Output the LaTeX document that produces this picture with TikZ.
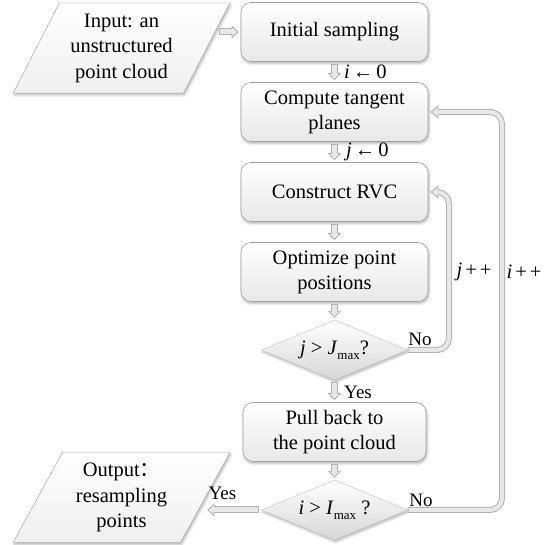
\documentclass[tikz,border=0pt]{standalone}
\usepackage{fontspec}
\setmainfont{Liberation Serif}
\newfontfamily\cjk{Noto Sans CJK SC}
\usetikzlibrary{shapes.geometric, arrows.meta, shadows.blur, calc}

\definecolor{edgegray}{HTML}{B2B2B2}
\definecolor{pipefill}{HTML}{E8E8E8}
\definecolor{boxline}{HTML}{A0A0A0}

% lowered subscript for the loop bounds
\newcommand\lowsub[1]{\raisebox{-5pt}{\fontsize{13pt}{15pt}\selectfont #1}}

\begin{document}
\begin{tikzpicture}[x=1pt, y=1pt,
  font=\fontsize{20.5pt}{25pt}\selectfont,
  softshadow/.style={blur shadow={shadow xshift=1pt, shadow yshift=-2pt,
      shadow blur radius=2.5pt, shadow opacity=30}},
  stepbox/.style={rectangle, rounded corners=10pt, draw=boxline, line width=0.6pt,
      minimum width=187pt, minimum height=59pt, inner sep=2pt, align=center,
      top color=white, bottom color=black!9, softshadow},
  test/.style={diamond, draw=boxline!60, line width=0.4pt, aspect=2.42,
      minimum width=146pt, minimum height=60pt, inner sep=0pt,
      top color=white, bottom color=black!16, softshadow},
  io/.style={trapezium, trapezium left angle=61, trapezium right angle=119,
      trapezium stretches=true, draw=boxline, line width=0.4pt,
      minimum width=217pt, minimum height=90pt, inner sep=0pt, align=center,
      font=\fontsize{20.5pt}{25.5pt}\selectfont,
      top color=white, bottom color=black!6, softshadow},
  small/.style={font=\fontsize{19pt}{22pt}\selectfont, inner sep=0pt},
  blockarrow/.default=2pt,
  blockarrow/.style={line width=7pt, draw=edgegray,
      -{Triangle[length=7pt, width=13pt]}, shorten <=#1, shorten >=2pt,
      postaction={draw=pipefill, line width=5pt, shorten <=#1+1pt,
        shorten >=3.47pt, -{Triangle[length=4.73pt, width=8.78pt]}}},
  pipe/.style={line width=6pt, draw=edgegray, rounded corners=12pt,
      -{Triangle[length=8pt, width=13pt]}, shorten >=2pt,
      postaction={draw=pipefill, line width=4pt, shorten <=1pt,
        shorten >=3.58pt, -{Triangle[length=5.62pt, width=9.1pt]}}}
]
\useasboundingbox (0,0) rectangle (557,545);

% main column of steps
\node[stepbox] (init)    at (334.5,513) {Initial sampling};
\node[stepbox] (tangent) at (334.5,433) {Compute tangent\\planes};
\node[stepbox] (rvc)     at (334.5,353) {Construct RVC};
\node[stepbox] (opt)     at (334.5,273) {Optimize point\\positions};
\node[test]    (dj)      at (334.5,195) {\textit{j} > \textit{J}\lowsub{max}?};
\node[stepbox, minimum width=183pt] (pull) at (334.5,113) {Pull back to\\the point cloud};
\node[test]    (di)      at (334.5,35)  {\textit{i} > \textit{I}\lowsub{max} ?};

% input and output
\node[io] (in)  at (121.5,497)  {Input: an\\unstructured\\point cloud};
\node[io] (out) at (121.5,47.5) {Output{\cjk ：}\\resampling\\points};

% straight flow arrows
\draw[blockarrow=12pt] (in.east |- init.west) -- (init.west);
\draw[blockarrow] (init.south) -- (tangent.north);
\draw[blockarrow] (tangent.south) -- (rvc.north);
\draw[blockarrow] (rvc.south) -- (opt.north);
\draw[blockarrow] (opt.south) -- (dj.north);
\draw[blockarrow] (dj.south) -- (pull.north);
\draw[blockarrow] (pull.south) -- (di.north);
\draw[blockarrow] (di.west) -- (out.east |- di.west);

% feedback loops
\coordinate (jcol) at (449,0);
\coordinate (icol) at (502,0);
\draw[pipe] (dj.east) -| (jcol |- rvc.east) -- (rvc.east);
\draw[pipe] (di.east) -| (icol |- tangent.east) -- (tangent.east);

% labels
\node[anchor=west, inner sep=0pt] (i0) at (344,473) {\textit{i}\hspace{3pt}←\hspace{3pt}0};
\node[anchor=west, inner sep=0pt] (j0) at (346,393) {\textit{j}\hspace{3pt}←\hspace{3pt}0};
\node[small, anchor=west] (yes1) at (344,153) {Yes};
\node[small] (no1)  at (420,206) {No};
\node[small] (no2)  at (421,45)  {No};
\node[small] (yes2) at (222.5,52) {Yes};
\node[inner sep=0pt] (jpp) at (474,273) {\textit{j}\hspace{3pt}+\hspace{3pt}+};
\node[inner sep=0pt] (ipp) at (524,273) {\textit{i}\hspace{3pt}+\hspace{3pt}+};
\end{tikzpicture}
\end{document}
